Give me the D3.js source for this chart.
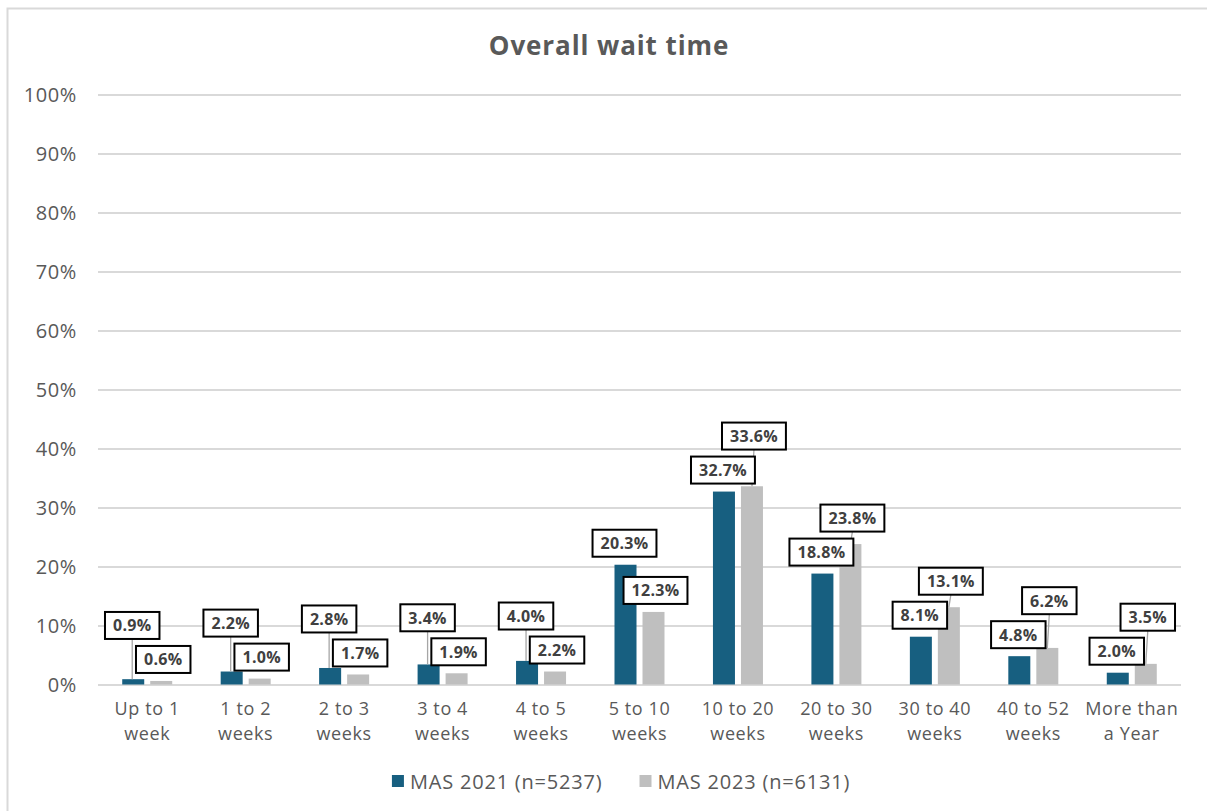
<!DOCTYPE html>
<html>
<head>
<meta charset="utf-8">
<script src="https://cdn.jsdelivr.net/npm/d3@7"></script>
<style>
  body { margin: 0; background: #fff; }
  svg { display: block; font-family: 'Open Sans', sans-serif; }
</style>
</head>
<body>
<svg id="chart" width="1207" height="811"></svg>
<script>
var categories = [
  ['Up to 1', 'week'], ['1 to 2', 'weeks'], ['2 to 3', 'weeks'], ['3 to 4', 'weeks'],
  ['4 to 5', 'weeks'], ['5 to 10', 'weeks'], ['10 to 20', 'weeks'], ['20 to 30', 'weeks'],
  ['30 to 40', 'weeks'], ['40 to 52', 'weeks'], ['More than', 'a Year']
];
var mas2021 = [0.9, 2.2, 2.8, 3.4, 4.0, 20.3, 32.7, 18.8, 8.1, 4.8, 2.0];
var mas2023 = [0.6, 1.0, 1.7, 1.9, 2.2, 12.3, 33.6, 23.8, 13.1, 6.2, 3.5];
var seriesNames = ['MAS 2021 (n=5237)', 'MAS 2023 (n=6131)'];
var yTicks = [0, 10, 20, 30, 40, 50, 60, 70, 80, 90, 100];
var title = 'Overall wait time';

var colors = ['#175f80', '#bfbfbf'];
var textColor = '#595959';

var svg = d3.select('#chart');

// outer frame of the chart
svg.append('rect')
  .attr('x', 7.5).attr('y', 8.5)
  .attr('width', 1215).attr('height', 820)
  .attr('fill', '#fff')
  .attr('stroke', '#d9d9d9')
  .attr('stroke-width', 2);

var margin = { left: 98, right: 26, top: 94.5, bottom: 126.5 };
var width = 1207 - margin.left - margin.right,
    height = 811 - margin.top - margin.bottom;

var g = svg.append('g')
  .attr('transform', 'translate(' + margin.left + ',' + margin.top + ')');

var x = d3.scaleBand().domain(d3.range(categories.length)).range([0, width]);
var y = d3.scaleLinear().domain([0, 100]).range([height, 0]);

var barW = 22, barGap = 6;
function barX(i, s) {
  var c = x(i) + x.bandwidth() / 2;
  return s === 0 ? c - barGap / 2 - barW : c + barGap / 2;
}

// gridlines
g.append('g')
  .selectAll('line')
  .data(yTicks)
  .join('line')
  .attr('x1', 0).attr('x2', width)
  .attr('y1', function(d) { return Math.round(y(d)) + 0.5; })
  .attr('y2', function(d) { return Math.round(y(d)) + 0.5; })
  .attr('stroke', '#d9d9d9')
  .attr('stroke-width', 2);

// y axis labels
var yAxis = g.append('g')
  .call(d3.axisLeft(y).tickValues(yTicks).tickFormat(function(d) { return d + '%'; }).tickSize(0).tickPadding(21));
yAxis.select('.domain').remove();
yAxis.selectAll('text')
  .attr('fill', textColor)
  .attr('dy', '0.36em')
  .style('font-size', '20px')
  .style('letter-spacing', '0.6px')
  .style('font-family', "'Open Sans', sans-serif");

// category labels, two lines each
var xLabels = g.append('g')
  .selectAll('g')
  .data(categories)
  .join('g')
  .attr('transform', function(d, i) { return 'translate(' + (x(i) + x.bandwidth() / 2) + ',' + (height + 30) + ')'; });
xLabels.selectAll('text')
  .data(function(d) { return d; })
  .join('text')
  .attr('y', function(d, k) { return k * 25; })
  .attr('text-anchor', 'middle')
  .attr('fill', textColor)
  .style('font-size', '18px')
  .style('letter-spacing', '0.6px')
  .text(function(d) { return d; });

// bars
var series = [mas2021, mas2023];
series.forEach(function(vals, s) {
  g.append('g')
    .selectAll('rect')
    .data(vals)
    .join('rect')
    .attr('x', function(d, i) { return barX(i, s); })
    .attr('y', function(d) { return y(d); })
    .attr('width', barW)
    .attr('height', function(d) { return y(0) - y(d); })
    .attr('fill', colors[s]);
});

// data labels: boxed, just above the bar; if both labels in a group collide,
// the larger value's label is pushed up and gets a leader line
var boxH = 27, labelGap = 8, stackGap = 7, padX = 8;
var labelLayer = g.append('g');
categories.forEach(function(c, i) {
  var labels = [0, 1].map(function(s) {
    var v = series[s][i];
    var cx = barX(i, s) + barW / 2 + (s === 0 ? -1 : 2);
    var grp = labelLayer.append('g');
    var txt = grp.append('text')
      .attr('text-anchor', 'middle')
      .attr('fill', '#404040')
      .style('font-size', '16px')
      .style('font-weight', 'bold')
      .style('letter-spacing', '0.3px')
      .text(v.toFixed(1) + '%');
    var w = txt.node().getComputedTextLength() + padX * 2;
    return { s: s, v: v, cx: cx, barTop: y(v), w: w, grp: grp, txt: txt, bottom: y(v) - labelGap };
  });
  var hi = labels[0].v > labels[1].v ? labels[0] : labels[1];
  var lo = hi === labels[0] ? labels[1] : labels[0];
  var overlapX = Math.abs(hi.cx - lo.cx) < (hi.w + lo.w) / 2;
  var loTop = lo.bottom - boxH;
  if (overlapX && hi.bottom > loTop - stackGap) {
    hi.bottom = loTop - stackGap;
  }
  labels.forEach(function(l) {
    var top = l.bottom - boxH;
    if (l.barTop - l.bottom > labelGap + 4) {
      labelLayer.insert('line', ':first-child')
        .attr('x1', l.cx - (l.s === 0 ? 0 : 2)).attr('y1', l.barTop)
        .attr('x2', l.cx).attr('y2', l.bottom)
        .attr('stroke', '#a6a6a6')
        .attr('stroke-width', 1.3);
    }
    l.grp.insert('rect', 'text')
      .attr('x', l.cx - l.w / 2)
      .attr('y', top)
      .attr('width', l.w)
      .attr('height', boxH)
      .attr('fill', '#fff')
      .attr('stroke', '#000')
      .attr('stroke-width', 2);
    l.txt.attr('x', l.cx).attr('y', top + boxH / 2 + 6);
  });
});

// title
svg.append('text')
  .attr('x', 609)
  .attr('y', 55)
  .attr('text-anchor', 'middle')
  .attr('fill', textColor)
  .style('font-size', '26px')
  .style('font-weight', 'bold')
  .style('letter-spacing', '0.9px')
  .text(title);

// legend
var legend = svg.append('g');
var items = legend.selectAll('g')
  .data(seriesNames)
  .join('g');
items.append('rect')
  .attr('width', 12).attr('height', 12)
  .attr('y', -14)
  .attr('fill', function(d, i) { return colors[i]; });
items.append('text')
  .attr('x', 18)
  .attr('y', 0)
  .attr('fill', textColor)
  .style('font-size', '20px')
  .style('letter-spacing', '0.8px')
  .text(function(d) { return d; });
var offset = 0;
items.each(function() {
  var w = this.getBBox().width;
  d3.select(this).attr('transform', 'translate(' + offset + ',0)');
  offset += w + 37;
});
var legendW = offset - 37;
legend.attr('transform', 'translate(' + (621 - legendW / 2) + ',789)');
</script>
</body>
</html>
